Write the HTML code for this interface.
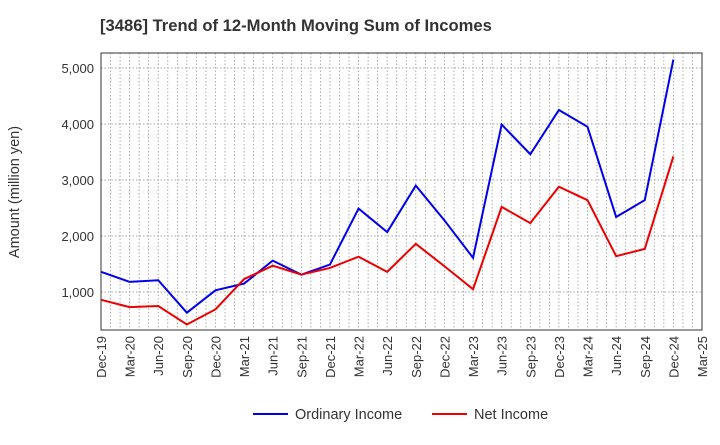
<!DOCTYPE html>
<html><head><meta charset="utf-8"><style>
body{margin:0;background:#fff;font-family:"Liberation Sans",sans-serif;}
</style></head><body>
<svg width="720" height="440" xmlns="http://www.w3.org/2000/svg">
<text x="100" y="31" font-size="16.6" font-weight="bold" fill="#333">[3486]  Trend of 12-Month Moving Sum of Incomes</text>
<g id="grid"></g>
<g id="yticks"></g>
<g id="xticks"></g>
<g id="series"></g>
<rect x="101" y="53" width="601" height="277" fill="none" stroke="#333" stroke-width="1"/>
<text transform="translate(19,192) rotate(-90)" text-anchor="middle" font-size="14.5" fill="#333">Amount (million yen)</text>
<g>
<line x1="253" y1="414" x2="288" y2="414" stroke="#0000ee" stroke-width="2"/>
<text x="295" y="419" font-size="14.5" fill="#333">Ordinary Income</text>
<line x1="432" y1="414" x2="467" y2="414" stroke="#ee0000" stroke-width="2"/>
<text x="474" y="419" font-size="14.5" fill="#333">Net Income</text>
</g>
</svg>
<script>
const categories=["Dec-19","Mar-20","Jun-20","Sep-20","Dec-20","Mar-21","Jun-21","Sep-21","Dec-21","Mar-22","Jun-22","Sep-22","Dec-22","Mar-23","Jun-23","Sep-23","Dec-23","Mar-24","Jun-24","Sep-24","Dec-24","Mar-25"];
const ordinaryIncome=[1360,1180,1210,630,1030,1150,1560,1310,1490,2490,2070,2900,2280,1610,3990,3460,4250,3950,2340,2640,5150];
const netIncome=[860,730,750,420,690,1230,1470,1310,1430,1630,1360,1860,1460,1050,2520,2230,2880,2640,1640,1770,3420];
const yTicks=[1000,2000,3000,4000,5000];
const yTickLabels=["1,000","2,000","3,000","4,000","5,000"];
const NS="http://www.w3.org/2000/svg";
const L=101,R=702,T=53,B=330;
const x=i=>L+(R-L)*i/(categories.length-1);
const y=v=>292-(v-1000)*0.056;
function mk(tag,attrs,parent){const e=document.createElementNS(NS,tag);for(const k in attrs)e.setAttribute(k,attrs[k]);parent.appendChild(e);return e;}
const grid=document.getElementById('grid'),yt=document.getElementById('yticks'),xt=document.getElementById('xticks'),sr=document.getElementById('series');
const nMonths=(categories.length-1)*3;
for(let m=1;m<nMonths;m++){const xx=L+(R-L)*m/nMonths;const g=mk('line',{x1:xx,x2:xx,y1:T,y2:B,stroke:'#999','stroke-width':0.8,'stroke-dasharray':'1.5,2'},grid);

}
yTicks.forEach((v,i)=>{const g=mk('line',{x1:L,x2:R,y1:y(v),y2:y(v),stroke:'#888','stroke-width':0.8,'stroke-dasharray':'1.5,2'},grid);


const t=mk('text',{x:L-7,y:y(v)+5,'text-anchor':'end','font-size':13,fill:'#333'},yt);t.textContent=yTickLabels[i];

});
categories.forEach((c,i)=>{const t=mk('text',{transform:`translate(${x(i)+5},${B+6}) rotate(-90)`,'text-anchor':'end','font-size':13,fill:'#333'},xt);t.textContent=c;

});
function line(data,color,name){const p=mk('polyline',{points:data.map((v,i)=>x(i)+','+y(v)).join(' '),fill:'none',stroke:color,'stroke-width':2},sr);

}
line(ordinaryIncome,'#0000ee','ordinary-income-line');
line(netIncome,'#ee0000','net-income-line');
</script>
</body></html>
